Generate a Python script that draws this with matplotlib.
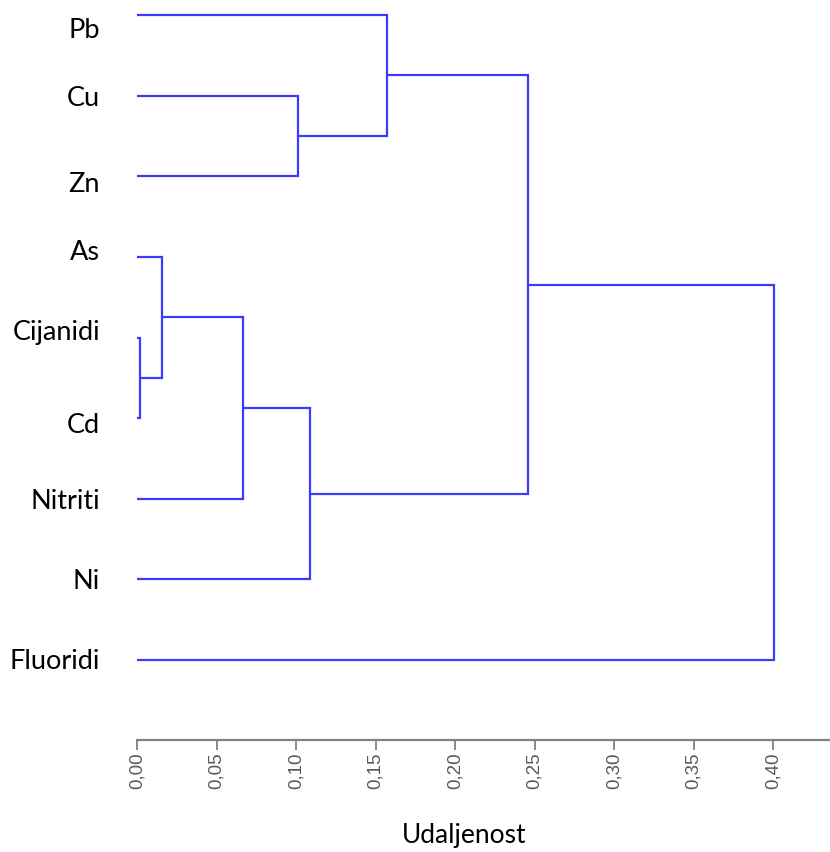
import numpy as np
import matplotlib
matplotlib.use("Agg")
import matplotlib.pyplot as plt

# leaves from top to bottom
leaves = ["Pb", "Cu", "Zn", "As", "Cijanidi", "Cd", "Nitriti", "Ni", "Fluoridi"]

# merges: (left cluster, right cluster, distance); cluster 9 + k is the k-th merge
merge_a = [4, 1, 3, 0, 11, 13, 12, 15]
merge_b = [5, 2, 9, 10, 6, 7, 14, 8]
merge_h = [0.0019, 0.1013, 0.0157, 0.157, 0.0667, 0.109, 0.2456, 0.4006]

ticks = [0.00, 0.05, 0.10, 0.15, 0.20, 0.25, 0.30, 0.35, 0.40]
tick_labels = ["0,00", "0,05", "0,10", "0,15", "0,20", "0,25", "0,30", "0,35", "0,40"]

# small vertical nudges of the leaf labels (as placed in the original)
label_nudge = [0.19, 0.04, 0.10, -0.05, -0.06, 0.09, 0.04, 0.03, 0.02]

line_col = "#3b3bff"
axis_col = "#808080"

fig = plt.figure(figsize=(8.30, 8.52), dpi=100)
ax = fig.add_axes([137 / 830, 112 / 852, 693 / 830, 740 / 852])

ypos = {i: float(i) for i in range(len(leaves))}
hpos = {i: 0.0 for i in range(len(leaves))}
for k, (a, b, h) in enumerate(zip(merge_a, merge_b, merge_h)):
    ya, yb = ypos[a], ypos[b]
    ax.plot([hpos[a], h, h, hpos[b]], [ya, ya, yb, yb],
            color=line_col, lw=1.6, solid_joinstyle="miter", solid_capstyle="butt")
    new = len(leaves) + k
    ypos[new] = (ya + yb) / 2
    hpos[new] = h

for i, name in enumerate(leaves):
    ax.text(-0.0233, i + label_nudge[i], name, ha="right", va="center",
            fontsize=19.5, family="Lato", color="black", clip_on=False)

ax.set_xlim(0, 693 / 1590)
ax.set_ylim(8.992, -0.186)

for s in ["top", "right", "left"]:
    ax.spines[s].set_visible(False)
ax.spines["bottom"].set_color(axis_col)
ax.spines["bottom"].set_linewidth(1.6)
ax.set_yticks([])
ax.set_xticks(ticks)
ax.set_xticklabels(tick_labels, rotation=90, family="Liberation Sans",
                   fontsize=13.5, color="#5a5a5a")
ax.tick_params(axis="x", length=7, width=1.3, color=axis_col, pad=2)

fig.text(464 / 830, 1 - 843 / 852, "Udaljenost", ha="center", va="baseline",
         fontsize=19, family="Lato")

fig.savefig("out.png", dpi=100)
